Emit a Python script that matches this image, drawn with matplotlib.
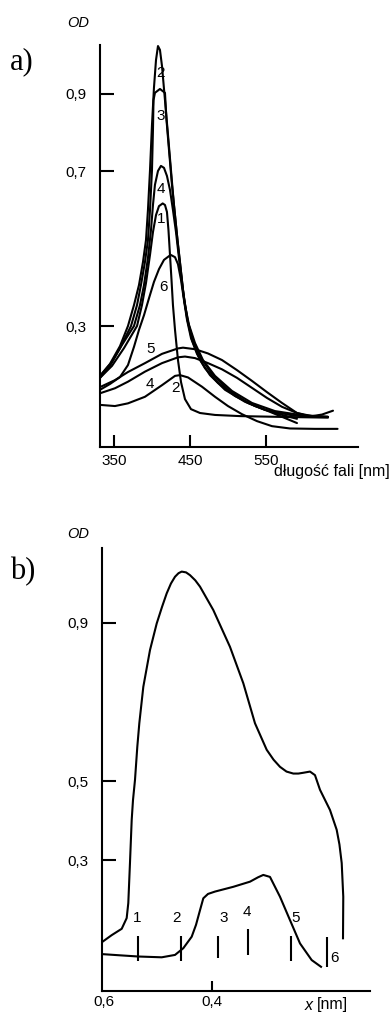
import matplotlib
matplotlib.use('Agg')
import matplotlib.pyplot as plt

plt.rcParams['font.family'] = ['Liberation Sans', 'DejaVu Sans']

# ---------------- Panel a) : OD vs wavelength (nm) ----------------
a_tall2_nm = [331.6, 344.7, 357.9, 368.4, 376.3, 382.9, 388.2, 392.1, 394.7, 397.4, 400.0, 402.6, 405.3, 407.9,
              410.5, 413.2, 417.1, 421.1, 425.0, 428.9, 432.9, 436.8, 440.8, 446.1, 452.6, 463.2, 476.3, 496.1,
              522.4, 548.7, 581.6, 607.9, 631.6]
a_tall2_od = [0.171, 0.202, 0.248, 0.300, 0.354, 0.406, 0.466, 0.522, 0.600, 0.703, 0.820, 0.916, 0.988, 1.024,
              1.014, 0.972, 0.884, 0.794, 0.703, 0.613, 0.535, 0.466, 0.393, 0.321, 0.264, 0.212, 0.173, 0.135,
              0.104, 0.083, 0.070, 0.065, 0.065]

a_tall3_nm = [331.6, 344.7, 357.9, 372.4, 380.3, 385.5, 390.8, 394.7, 397.4, 400.0, 401.3, 402.0, 403.9, 410.5,
              417.1, 419.1, 422.4, 426.3, 430.3, 434.2, 438.2, 442.1, 447.4, 453.9, 464.5, 478.9, 500.0, 526.3,
              555.3, 590.8]
a_tall3_od = [0.166, 0.197, 0.243, 0.300, 0.354, 0.406, 0.466, 0.522, 0.600, 0.703, 0.807, 0.884, 0.903, 0.913,
              0.903, 0.833, 0.755, 0.665, 0.587, 0.510, 0.440, 0.372, 0.310, 0.264, 0.217, 0.176, 0.135, 0.101,
              0.078, 0.049]

a_tall4_nm = [331.6, 347.4, 360.5, 376.3, 384.2, 389.5, 394.7, 398.7, 401.3, 403.9, 407.9, 411.8, 415.8, 419.7,
              423.7, 427.6, 431.6, 435.5, 439.5, 443.4, 448.7, 456.6, 467.1, 482.9, 505.3, 531.6, 561.8, 594.7,
              631.6]
a_tall4_od = [0.171, 0.207, 0.251, 0.300, 0.354, 0.406, 0.476, 0.548, 0.613, 0.665, 0.701, 0.714, 0.709, 0.688,
              0.652, 0.600, 0.543, 0.476, 0.411, 0.354, 0.303, 0.256, 0.212, 0.171, 0.132, 0.101, 0.080, 0.070,
              0.065]

a_c1_nm = [331.6, 347.4, 363.2, 380.3, 386.8, 392.1, 397.4, 401.3, 405.3, 409.2, 414.1, 417.1, 419.7, 421.7,
           423.7, 425.7, 427.6, 430.3, 434.2, 438.2, 443.4, 451.3, 463.2, 482.9, 515.8, 568.4, 631.6]
a_c1_od = [0.166, 0.197, 0.243, 0.300, 0.354, 0.411, 0.484, 0.543, 0.587, 0.610, 0.617, 0.613, 0.595, 0.548,
           0.484, 0.419, 0.354, 0.290, 0.212, 0.155, 0.111, 0.085, 0.075, 0.070, 0.067, 0.065, 0.063]

a_c6_nm = [331.6, 344.7, 357.9, 368.4, 376.3, 382.9, 389.5, 396.1, 402.6, 409.2, 415.8, 424.6, 430.3, 434.2,
           438.2, 442.1, 446.1, 451.3, 459.2, 469.7, 486.8, 509.2, 535.5, 561.8, 590.8]
a_c6_od = [0.135, 0.150, 0.168, 0.199, 0.246, 0.290, 0.328, 0.372, 0.414, 0.447, 0.471, 0.484, 0.478, 0.460,
           0.419, 0.367, 0.316, 0.269, 0.228, 0.191, 0.153, 0.119, 0.093, 0.075, 0.060]

a_low5_nm = [331.6, 351.3, 368.4, 390.8, 413.2, 434.2, 440.8, 456.6, 473.7, 492.1, 511.8, 531.6, 551.3, 571.1,
             590.8, 607.9, 623.7, 638.2]
a_low5_od = [0.142, 0.160, 0.181, 0.204, 0.228, 0.242, 0.244, 0.240, 0.229, 0.212, 0.186, 0.158, 0.129, 0.101,
             0.075, 0.066, 0.071, 0.081]

a_low4_nm = [331.6, 351.3, 368.4, 390.8, 413.2, 434.2, 443.4, 456.6, 473.7, 492.1, 511.8, 531.6, 551.3, 571.1,
             590.8, 610.5, 631.6]
a_low4_od = [0.126, 0.139, 0.156, 0.182, 0.204, 0.219, 0.221, 0.217, 0.204, 0.188, 0.166, 0.140, 0.114, 0.091,
             0.075, 0.067, 0.065]

a_low2_nm = [331.6, 351.3, 368.4, 390.8, 413.2, 430.3, 436.8, 447.4, 465.8, 482.9, 500.0, 518.4, 538.2, 557.9,
             581.6, 614.5, 644.2]
a_low2_od = [0.096, 0.093, 0.100, 0.117, 0.147, 0.171, 0.173, 0.167, 0.143, 0.117, 0.093, 0.072, 0.054, 0.041,
             0.035, 0.034, 0.034]

a_curves = [(a_tall2_nm, a_tall2_od), (a_tall3_nm, a_tall3_od), (a_tall4_nm, a_tall4_od),
            (a_c1_nm, a_c1_od), (a_c6_nm, a_c6_od), (a_low5_nm, a_low5_od),
            (a_low4_nm, a_low4_od), (a_low2_nm, a_low2_od)]

a_label_text = ['2', '3', '4', '1', '6', '5', '4', '2']
a_label_nm = [411.4, 411.4, 411.8, 411.4, 414.9, 398.3, 397.4, 430.3]
a_label_od = [0.955, 0.844, 0.654, 0.576, 0.402, 0.241, 0.150, 0.139]

a_xticks = [350, 450, 550]
a_xticklabels = ['350', '450', '550']
a_yticks = [0.3, 0.7, 0.9]
a_yticklabels = ['0,3', '0,7', '0,9']

# ---------------- Panel b) : OD vs x (nm) ----------------
b_upper_x = [0.603, 0.5857, 0.5672, 0.558, 0.555, 0.5519, 0.5487, 0.5463, 0.5426, 0.5383, 0.5346, 0.5272,
             0.5148, 0.5024, 0.4925, 0.4839, 0.4760, 0.4685, 0.4620, 0.4561, 0.4480, 0.4407, 0.4310, 0.4222,
             0.3976, 0.3667, 0.342, 0.3204, 0.2987, 0.2860, 0.2741, 0.2620, 0.2494, 0.2400, 0.2309, 0.2185,
             0.2093, 0.200, 0.1815, 0.1691, 0.1640, 0.1598, 0.1569, 0.1574]
b_upper_od = [0.094, 0.111, 0.127, 0.154, 0.192, 0.293, 0.402, 0.452, 0.503, 0.587, 0.646, 0.738,
              0.831, 0.898, 0.940, 0.974, 0.999, 1.016, 1.025, 1.029, 1.027, 1.020, 1.007, 0.991,
              0.932, 0.839, 0.747, 0.646, 0.579, 0.554, 0.536, 0.524, 0.519, 0.519, 0.521, 0.524,
              0.515, 0.478, 0.427, 0.377, 0.340, 0.293, 0.208, 0.103]

b_lower_x = [0.603, 0.5704, 0.5365, 0.4931, 0.4685, 0.4531, 0.4376, 0.4296, 0.4222, 0.4161, 0.4074, 0.3944,
             0.3606, 0.3296, 0.3148, 0.305, 0.2926, 0.2741, 0.2556, 0.237, 0.2154, 0.1981]
b_lower_od = [0.063, 0.060, 0.057, 0.055, 0.061, 0.078, 0.107, 0.137, 0.174, 0.204, 0.215, 0.221,
              0.233, 0.246, 0.257, 0.263, 0.258, 0.208, 0.149, 0.090, 0.048, 0.031]

b_marker_x = [0.5365, 0.4574, 0.3894, 0.3328, 0.2537, 0.1865]
b_marker_text = ['1', '2', '3', '4', '5', '6']

b_xticks = [0.6, 0.4]
b_xticklabels = ['0,6', '0,4']
b_yticks = [0.3, 0.5, 0.9]
b_yticklabels = ['0,3', '0,5', '0,9']

# ---------------- layout ----------------
W, H = 392, 1014
fig = plt.figure(figsize=(W / 100, H / 100), dpi=100)


def fx(px):
    return px / W


def fy(py):
    return 1 - py / H


LW = 1.5
TXT = 11
LBL = 11

# panel a axes
axa = fig.add_axes([fx(100), fy(447), (358 - 100) / W, (447 - 45) / H])
axa.set_xlim(331.6, 671.1)
axa.set_ylim(-0.0129, 1.0267)
for xs, ys in a_curves:
    axa.plot(xs, ys, color='black', lw=LW, solid_capstyle='round', solid_joinstyle='round')
for t, xv, yv in zip(a_label_text, a_label_nm, a_label_od):
    axa.text(xv, yv, t, ha='center', va='center', fontsize=LBL)

axa.set_xticks(a_xticks)
axa.set_xticklabels(a_xticklabels)
axa.set_yticks(a_yticks)
axa.set_yticklabels(a_yticklabels)

# panel b axes
axb = fig.add_axes([fx(102), fy(991), (370 - 102) / W, (991 - 548) / H])
axb.set_xlim(0.6037, 0.1074)
axb.set_ylim(-0.0301, 1.0886)
axb.plot(b_upper_x, b_upper_od, color='black', lw=LW, solid_joinstyle='round')
axb.plot(b_lower_x, b_lower_od, color='black', lw=LW, solid_joinstyle='round')

mk_lo = [0.046, 0.046, 0.052, 0.061, 0.046, 0.030]
mk_hi = [0.109, 0.109, 0.109, 0.126, 0.109, 0.107]
axb.vlines(b_marker_x, mk_lo, mk_hi, color='black', lw=LW)
lbl_dx = [0.0019, 0.0080, -0.0116, 0.0018, -0.0093, -0.0125]
for i, (t, xv) in enumerate(zip(b_marker_text, b_marker_x)):
    if t == '6':
        axb.text(xv + lbl_dx[i], 0.052, t, ha='center', va='center', fontsize=LBL)
    else:
        axb.text(xv + lbl_dx[i], mk_hi[i] + 0.044, t, ha='center', va='center', fontsize=LBL)

axb.set_xticks(b_xticks)
axb.set_xticklabels(b_xticklabels)
axb.set_yticks(b_yticks)
axb.set_yticklabels(b_yticklabels)
axb.xaxis.get_major_ticks()[0].tick1line.set_visible(False)

for ax in (axa, axb):
    ax.spines['top'].set_visible(False)
    ax.spines['right'].set_visible(False)
    ax.spines['left'].set_linewidth(LW)
    ax.spines['bottom'].set_linewidth(LW)
    ax.patch.set_alpha(0)
    ax.tick_params(axis='y', direction='in', length=10, width=LW, pad=10, labelsize=TXT)
    ax.tick_params(axis='x', direction='in', length=8.5, width=LW, labelsize=TXT)
axa.tick_params(axis='x', pad=5)
axb.tick_params(axis='x', pad=3)
axb.tick_params(axis='x', length=7)
for lab in axa.get_xticklabels()[:1]:
    lab.set_x(lab.get_position()[0])

# outside texts
fig.text(fx(10), fy(62), 'a)', family='Liberation Serif', fontsize=22, ha='left', va='center')
fig.text(fx(10), fy(572), 'b)', family='Liberation Serif', fontsize=22, ha='left', va='center')
fig.text(fx(78), fy(23), 'OD', style='italic', fontsize=10.5, ha='center', va='center')
fig.text(fx(78), fy(534), 'OD', style='italic', fontsize=10.5, ha='center', va='center')
fig.text(fx(390), fy(472), 'długość fali [nm]', fontsize=11.5, ha='right', va='center')
fig.text(fx(305), fy(1005), 'x', style='italic', fontsize=11.5, ha='left', va='center')
fig.text(fx(317), fy(1005), '[nm]', fontsize=11.5, ha='left', va='center')

fig.savefig('out.png', dpi=100, facecolor='white')
